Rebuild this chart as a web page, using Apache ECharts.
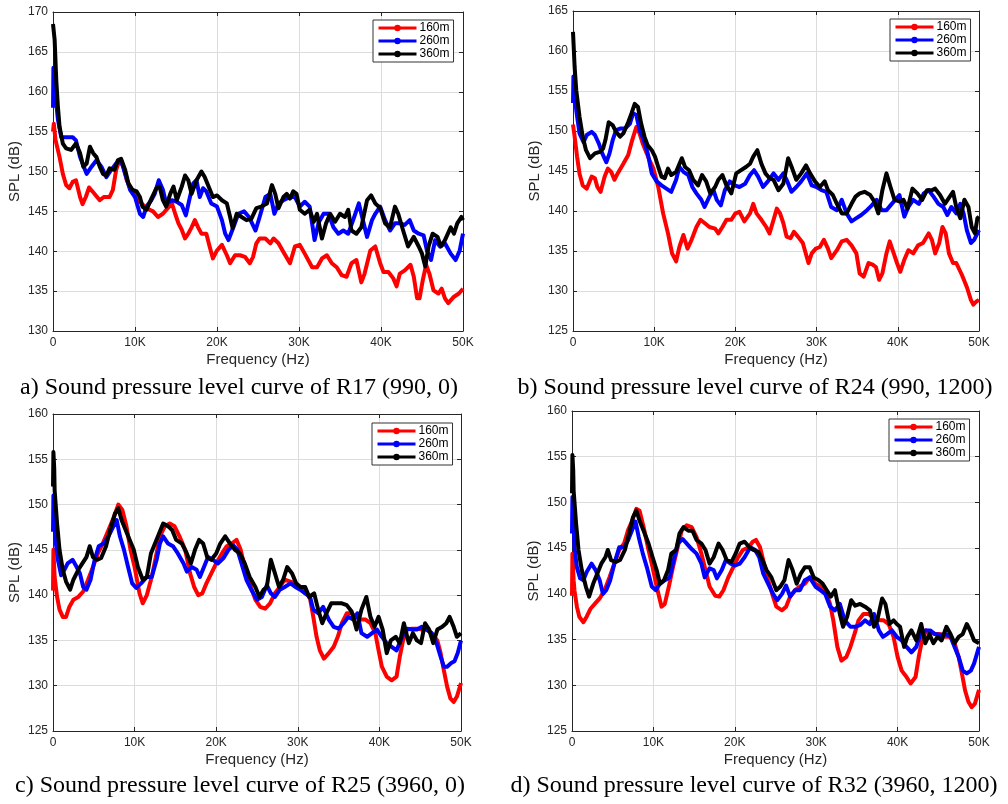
<!DOCTYPE html>
<html>
<head>
<meta charset="utf-8">
<title>SPL curves</title>
<script src="https://cdn.jsdelivr.net/npm/echarts@6/dist/echarts.min.js"></script>
<style>
  html, body { margin: 0; padding: 0; background: #fff; }
  #chart { width: 1008px; height: 804px; }
</style>
</head>
<body>
<div id="chart"></div>
<script>
// Frequency in kHz, sound pressure level in dB, one [f, SPL] list per distance.
const seriesNames = ['160m', '260m', '360m'];
const seriesColors = ['#ff0000', '#0000ff', '#000000'];
const xTicks = [0, 10, 20, 30, 40, 50];

const captions = [
  'a) Sound pressure level curve of R17 (990, 0)',
  'b) Sound pressure level curve of R24 (990, 1200)',
  'c) Sound pressure level curve of R25 (3960, 0)',
  'd) Sound pressure level curve of R32 (3960, 1200)'
];
const yRanges = [[130, 170], [125, 165], [125, 160], [125, 160]];

// R17 (990, 0)
const a160 = [[0,155],[0.1,156],[0.3,154],[0.8,151.8],[1.2,149.7],[1.6,148.3],[2,147.9],[2.4,148.7],[2.8,148.9],[3.3,146.8],[3.6,145.9],[4,146.8],[4.4,148],[4.9,147.4],[5.7,146.4],[6.2,146.8],[6.9,146.8],[7.3,147.7],[7.7,150.2],[8.1,151.4],[8.6,150.6],[9,148.9],[9.6,147.7],[10.2,146.6],[10.8,146],[11.4,145.4],[12.2,145],[12.8,144.3],[13.4,144.7],[14,145.4],[14.5,146],[14.9,144.7],[15.3,143.5],[15.7,142.7],[16.1,141.6],[16.5,142.2],[16.9,143],[17.3,143.9],[17.7,143],[18.1,142.2],[18.7,142.2],[19.1,140.6],[19.5,139.1],[20,140.1],[20.6,140.8],[21.2,139.5],[21.6,138.5],[22.2,139.5],[22.8,139.5],[23.4,139.3],[24,138.5],[24.4,139.3],[24.8,141],[25.2,141.6],[25.9,141.6],[26.5,141],[26.9,141.6],[27.5,141],[28.1,139.9],[28.9,138.5],[29.5,140.6],[30.1,140.8],[30.7,139.7],[31.6,138],[32.2,138],[32.8,139.1],[33.4,139.5],[34,138.5],[34.6,138],[35.2,137],[35.8,136.8],[36.4,138.5],[37,138.9],[37.6,136.1],[38,137.2],[38.7,140.1],[39.3,140.6],[39.9,138.5],[40.3,137.4],[40.9,137.4],[41.5,136.6],[41.9,135.6],[42.3,137.2],[42.9,137.6],[43.6,138.3],[44,136.8],[44.4,134.1],[44.7,134.1],[45.1,136.4],[45.5,138.3],[45.9,137.2],[46.4,135.1],[47,134.7],[47.4,135.3],[47.8,134.1],[48.2,133.5],[48.9,134.3],[49.5,134.7],[50,135.3]];
const a260 = [[0,158],[0.05,163],[0.3,159.5],[0.6,156.5],[1,154.3],[1.6,154.3],[2.4,154.3],[2.8,153.9],[3.3,151.8],[4.1,149.7],[4.7,150.6],[5.3,151.4],[5.9,150.6],[6.5,149.3],[7.1,150.2],[7.7,151],[8.3,151.4],[8.8,149.7],[9.4,147.7],[10,146.8],[10.6,144.7],[11,144.3],[11.4,145.6],[12,146.4],[12.4,147.2],[12.9,148.9],[13.4,147.7],[13.8,146],[14.5,146.4],[15.1,146.2],[15.7,145.8],[16.2,144.5],[16.7,146.8],[17.1,148.5],[17.5,148.9],[17.9,146.8],[18.3,147.9],[18.7,147.5],[19.3,146],[20,145.6],[20.6,143.9],[21,142.2],[21.4,141.4],[22,143],[22.6,144.7],[23.3,145],[23.9,144.3],[24.7,142.6],[25.2,144.3],[25.9,146.8],[26.5,147.2],[27,144.7],[27.5,146],[28.1,146.4],[28.9,146.8],[29.5,146.8],[30.1,145.6],[30.7,146.2],[31.3,145.6],[31.9,141.4],[32.4,143.6],[33,144.7],[33.6,144.7],[34.2,143],[34.8,142.2],[35.4,142.6],[36,142.2],[36.6,143.9],[37.3,146],[37.6,144.7],[38.3,141.8],[38.9,143.9],[39.3,144.7],[39.9,145.6],[40.5,143.9],[41.1,142.6],[41.7,143.5],[42.3,143.5],[42.9,143.3],[43.5,143.9],[44,142.6],[44.6,142.2],[45.2,142],[45.6,140.1],[46.1,138.9],[46.6,141.4],[47.2,140.6],[47.8,141],[48.5,139.7],[49.1,138.9],[49.6,140.1],[50,142.2]];
const a360 = [[0,168.5],[0.2,166.5],[0.4,161.4],[0.6,158.1],[0.8,155.6],[1.2,153.5],[1.6,152.9],[2.2,152.7],[2.8,153.5],[3.3,152.3],[3.7,150.6],[4.1,151],[4.5,153.1],[4.9,152.3],[5.3,151.8],[5.7,150.6],[6.1,149.7],[6.5,149.5],[6.9,150.4],[7.5,150.2],[7.9,151.4],[8.3,151.6],[8.8,150.2],[9.2,148.5],[9.7,147.7],[10.2,147.5],[10.6,146.8],[10.9,145.6],[11.4,145.2],[12,146.6],[12.6,147.9],[13,148.1],[13.4,146.4],[13.8,145.6],[14.3,147.2],[14.7,148.1],[15.1,146.4],[15.7,148.1],[16.1,149.5],[16.5,148.9],[16.9,147.2],[17.5,148.9],[18.1,150],[18.5,149.3],[18.9,148.3],[19.5,146.8],[20,147],[20.6,146.4],[21.2,146],[21.6,144.3],[21.9,142.9],[22.4,144.7],[23,144.3],[23.6,143.9],[24.2,144.1],[24.8,145.4],[25.4,145.6],[26.1,146],[26.7,148.3],[27.1,147.2],[27.5,145.4],[28.1,146.8],[28.5,147.2],[28.9,146.6],[29.3,147.5],[29.7,147.2],[30.1,145.2],[30.7,144.7],[31.3,145.2],[31.8,143.7],[32.2,144.7],[32.8,141.6],[33.3,143.5],[33.8,144.7],[34.4,143.7],[35,144.7],[35.6,144.3],[36,145.2],[36.4,142.6],[37,142.2],[37.6,143],[38.3,146.4],[38.8,147],[39.3,146],[39.9,145.4],[40.5,143.5],[41.1,143],[41.7,145.6],[42.1,144.7],[42.7,142.6],[43.3,140.6],[44,141.8],[44.6,140.6],[45,139.7],[45.4,138.1],[45.8,140.6],[46.3,142.2],[46.9,141.8],[47.3,140.6],[47.8,141.4],[48.5,143],[48.9,142.2],[49.3,143.5],[49.8,144.3],[50,143.9]];

// R24 (990, 1200)
const b160 = [[0,150.8],[0.2,149.3],[0.5,146.8],[0.8,144.7],[1.2,143.2],[1.7,142.8],[2.3,144.3],[2.7,144.1],[3,143],[3.4,142.4],[3.9,144.3],[4.3,145.3],[4.7,144.9],[5.1,143.9],[5.5,144.7],[6.2,145.9],[6.8,147],[7.3,148.9],[7.8,150.5],[8.2,149.7],[8.6,148.4],[9,147.4],[9.4,146.4],[9.9,145.3],[10.5,143],[11.1,139.7],[11.7,137.2],[12.2,134.7],[12.7,133.7],[13.1,135.5],[13.6,137],[14.1,135.3],[14.6,136.4],[15.2,138],[15.7,138.9],[16.2,138.5],[16.8,138],[17.5,137.8],[17.9,137.2],[18.4,138],[18.9,138.9],[19.5,138.9],[20,139.7],[20.5,139.9],[21.1,138.7],[21.8,139.7],[22.2,140.9],[22.6,139.7],[23.2,138.9],[23.8,138],[24.2,137.2],[24.7,138.9],[25.1,140.3],[25.5,139.7],[25.9,138.5],[26.3,136.8],[26.8,136.6],[27.2,137.4],[27.7,136.8],[28.3,136],[29,133.5],[29.4,134.7],[29.9,135.3],[30.4,135.5],[30.9,136.4],[31.4,135.3],[31.8,134.1],[32.5,135.1],[33.1,136.2],[33.7,136.4],[34.3,135.7],[34.9,134.7],[35.3,132.2],[35.8,131.8],[36.4,133.5],[36.9,133.3],[37.3,133],[37.7,131.4],[38.1,132.2],[38.6,134.7],[39,136.2],[39.5,134.7],[39.9,133.5],[40.3,132.4],[40.8,133.9],[41.3,135.1],[41.9,134.7],[42.5,135.7],[43.1,136],[43.8,137.2],[44.2,136.4],[44.6,134.7],[45.1,136],[45.5,138],[45.9,137.2],[46.3,134.7],[46.8,133.5],[47.2,133.5],[47.9,132],[48.5,130.5],[49,128.9],[49.3,128.3],[49.7,128.7],[50,128.9]];
const b260 = [[0,153.5],[0.05,156.8],[0.4,152.6],[0.8,149.7],[1.3,148.6],[1.7,149.5],[2.3,149.9],[2.7,149.5],[3.2,148.4],[3.6,147.2],[4.1,146.1],[4.5,147.2],[4.9,148.9],[5.3,150.1],[5.8,150.3],[6.4,150.3],[7,150.9],[7.4,152.2],[7.8,152],[8.2,150.1],[8.7,148.9],[9.2,147.2],[9.7,144.7],[10.3,143.7],[10.9,143.2],[11.5,142.8],[12.1,142.4],[12.7,143.9],[13.1,145.5],[13.6,144.9],[14.2,144.5],[14.7,143],[15.2,142.2],[15.8,141.4],[16.2,140.5],[16.8,141.8],[17.3,142.6],[17.7,141.4],[18.2,140.7],[18.7,142.6],[19.3,143.7],[19.9,143.2],[20.5,143],[21.2,143.4],[21.8,144.5],[22.3,145.1],[22.8,144.3],[23.4,143],[24,143.7],[24.7,144.7],[25.3,143.9],[25.9,144.7],[26.4,143.7],[26.9,142.4],[27.5,143],[28.1,143.7],[28.8,144.7],[29.4,143.2],[30,143],[30.6,142.6],[31.2,142.4],[31.8,140.5],[32.5,140.1],[33.1,141.4],[33.7,139.7],[34.3,138.7],[34.9,139.1],[35.5,139.5],[36.2,140.1],[36.8,140.7],[37.4,141.4],[38,140.1],[38.6,140.1],[39.1,140.7],[39.7,141.4],[40.2,142],[40.8,139.3],[41.3,140.5],[41.9,141.4],[42.6,140.9],[43.2,142.2],[43.8,142.6],[44.4,141.8],[45,140.9],[45.6,140.5],[46.1,139.5],[46.6,140.5],[47.2,139.7],[47.7,140.9],[48.1,139.7],[48.5,137.6],[49,136],[49.4,136.4],[49.8,137.2],[50,137.6]];
const b360 = [[0,162.4],[0.2,158],[0.4,155.1],[0.8,151.8],[1.2,149.3],[1.6,147.6],[2.1,146.6],[2.7,147.2],[3.3,147.4],[3.7,147.8],[4,148.9],[4.4,151.1],[4.9,150.7],[5.3,149.9],[5.8,149.3],[6.2,149.7],[6.8,151.1],[7.2,152.2],[7.6,153.4],[8,153],[8.4,150.9],[8.8,149.3],[9.2,148.2],[9.7,147.6],[10.1,146.8],[10.5,145.5],[10.9,144.3],[11.3,144.1],[11.7,145.3],[12.1,144.5],[12.7,144.9],[13.4,146.6],[13.8,145.5],[14.3,145.1],[14.8,143.9],[15.4,143.2],[15.9,144.5],[16.4,143.7],[16.9,142.2],[17.5,143],[17.9,143.9],[18.4,144.5],[18.9,143.2],[19.5,142.2],[20.1,144.7],[20.7,145.1],[21.3,145.5],[21.8,145.9],[22.2,146.8],[22.7,147.6],[23.2,145.9],[23.7,144.7],[24.2,144.1],[24.7,143.9],[25.3,142.6],[25.9,143.4],[26.5,146.6],[27,145.3],[27.5,143.9],[28.1,144.7],[28.7,145.7],[29.2,144.7],[29.8,143.7],[30.4,143],[31,143.7],[31.4,142.6],[32,142],[32.5,140.9],[33.1,139.7],[33.7,139.7],[34.3,140.9],[34.8,141.8],[35.3,142.2],[35.9,142.4],[36.6,142],[37.1,141.2],[37.6,139.7],[38.1,142.6],[38.6,144.7],[39.1,143],[39.6,141.4],[40.2,141.2],[40.7,141.4],[41.2,140.3],[41.8,142.8],[42.4,142.2],[43,141.4],[43.6,142.6],[44.2,142.6],[44.6,142.8],[45.2,142],[45.8,140.9],[46.4,141.8],[46.8,142.4],[47.2,140.5],[47.7,139.1],[48.2,141.4],[48.7,140.5],[49.1,138],[49.5,137.2],[49.8,139.1],[50,139.3]];

// R25 (3960, 0)
const c160 = [[0,140.5],[0.05,145],[0.2,142],[0.5,139.8],[0.8,138.4],[1.2,137.6],[1.6,137.6],[2,138.7],[2.5,139.5],[3.1,139.8],[3.7,140.4],[4.3,141.7],[4.9,143.1],[5.5,144.6],[6.1,145.7],[6.8,147.2],[7.4,148.5],[8,150],[8.5,149.4],[9,147.6],[9.5,145],[10,143.1],[10.6,140.2],[11,139.1],[11.5,140],[12.1,142],[12.6,144.2],[13.1,146.5],[13.7,147.6],[14.3,147.9],[14.9,147.6],[15.5,146.5],[16.2,145],[16.8,142.4],[17.3,140.9],[17.8,140],[18.3,140.2],[18.8,141.3],[19.4,142.4],[20,143.5],[20.7,144.6],[21.3,145.4],[21.9,145.7],[22.5,146.1],[23,145],[23.5,143.1],[24.1,141.3],[24.8,139.5],[25.4,138.7],[26,138.5],[26.6,139.1],[27.2,140.2],[27.8,140.9],[28.4,141.7],[29.1,141.5],[29.7,141.3],[30.3,140.9],[30.9,140.6],[31.5,139.6],[31.9,137.6],[32.3,135.4],[32.7,133.9],[33.2,133],[33.8,133.6],[34.4,134.3],[34.9,135.4],[35.4,136.9],[36,138],[36.6,138],[37.2,137.6],[37.6,137.3],[38.3,137.3],[38.9,136.9],[39.5,135.8],[39.9,133.9],[40.3,132.1],[40.9,131],[41.5,130.6],[42.1,131],[42.5,133.2],[42.9,135],[43.4,136.2],[44,136.3],[44.6,136.3],[45.2,136.2],[45.8,136.2],[46.4,135.8],[47.1,135],[47.5,133.6],[47.9,131.7],[48.3,129.9],[48.7,128.6],[49.1,128.2],[49.5,128.8],[50,130.3]];
const c260 = [[0,147],[0.05,151],[0.2,148],[0.3,146.1],[0.6,143.9],[1,142.2],[1.4,142.8],[1.8,143.5],[2.4,143.9],[2.9,143.1],[3.3,142.4],[3.7,140.9],[4.1,140.6],[4.6,141.7],[5.1,143.9],[5.6,145.4],[6.2,145.7],[6.8,146.5],[7.4,147.6],[7.8,148.3],[8.2,146.5],[8.7,145],[9.2,143.1],[9.7,141.3],[10.2,140.8],[10.8,141.3],[11.5,142],[12.1,142],[12.7,143.9],[13.1,145.7],[13.5,146.5],[14.1,145.7],[14.7,145.4],[15.3,144.6],[16,143.5],[16.4,142.6],[17,143.1],[17.6,142.8],[18,142],[18.5,143.1],[19,144.2],[19.6,143.9],[20.2,143.5],[20.9,144.1],[21.5,145],[22.1,145.5],[22.6,145],[23.1,143.5],[23.7,141.7],[24.3,140.6],[25,139.5],[25.6,139.8],[26.2,141.1],[26.7,140.2],[27.2,139.8],[27.8,140.6],[28.4,140.9],[29.1,141.3],[29.7,140.9],[30.3,140.6],[30.9,140.2],[31.5,139.8],[31.9,138.4],[32.5,138],[33.1,138.7],[33.8,137.3],[34.4,136.5],[35,136.3],[35.6,136.9],[36.2,137.6],[36.8,137.3],[37.3,138],[37.8,135.8],[38.5,135.4],[39.1,135.8],[39.7,136.2],[40.3,135.4],[40.9,134.7],[41.5,134.3],[42.1,133.9],[42.8,135.4],[43.4,136.3],[44,136.2],[44.6,136.2],[45.2,136.5],[45.8,136.2],[46.4,135.8],[47,134.7],[47.5,133.2],[47.9,132.1],[48.3,132.1],[48.8,132.5],[49.2,132.7],[49.6,133.6],[50,135]];
const c360 = [[0,152],[0.05,155.8],[0.15,154],[0.2,151.6],[0.5,147.9],[0.8,145],[1.2,142.8],[1.6,141.5],[2.1,140.6],[2.5,141.7],[3.1,142.8],[3.6,143.5],[4.1,144.2],[4.5,145.4],[4.9,144.2],[5.4,143.9],[5.9,144.1],[6.5,145.4],[7,147.2],[7.6,149],[8,149.6],[8.4,148.3],[8.9,147.2],[9.4,146.1],[9.9,145],[10.4,143.1],[11,141.7],[11.5,142],[12,144.6],[12.5,145.7],[13,146.8],[13.5,147.9],[14.1,147.6],[14.6,147.2],[15.1,146.1],[15.8,145.7],[16.4,144.6],[16.9,143.5],[17.4,145],[17.9,146.1],[18.4,145.7],[18.9,144.2],[19.4,143.9],[20,144.6],[20.5,145.7],[21.1,146.5],[21.7,145.7],[22.3,145],[22.9,144.6],[23.5,143.5],[24.1,142],[24.8,140.9],[25.3,139.8],[25.8,140.6],[26.2,140.9],[26.7,143.9],[27.2,142.4],[27.7,140.9],[28.2,141.7],[28.7,143.1],[29.3,142.4],[29.8,141.3],[30.3,140.9],[30.9,140.9],[31.4,139.8],[32,140.2],[32.5,138.4],[33,136.9],[33.5,138],[34.1,139.1],[34.8,139.1],[35.4,139.1],[36,138.9],[36.6,138.2],[37.2,136.2],[37.8,138.4],[38.4,139.8],[38.9,137.6],[39.4,136.5],[39.9,137.6],[40.4,136.2],[40.9,133.6],[41.4,135],[42,135.4],[42.5,134.7],[43,136.9],[43.6,134.7],[44.1,135.8],[44.6,135],[45.1,134.7],[45.6,136.9],[46.1,136.2],[46.6,134.7],[47.1,136.2],[47.7,136.5],[48.2,136.9],[48.6,137.6],[49.1,136.5],[49.5,135.4],[50,135.8]];

// R32 (3960, 1200)
const d160 = [[0,139.8],[0.05,144.4],[0.2,141.5],[0.3,140.4],[0.6,138.6],[0.9,137.5],[1.4,136.9],[1.8,137.5],[2.3,138.4],[2.8,138.9],[3.4,139.5],[4,140.4],[4.6,141.8],[5.2,143.3],[5.8,144.8],[6.4,145.5],[6.9,147],[7.4,148],[7.9,149.3],[8.3,149.1],[8.8,147.3],[9.4,144.8],[9.9,142.9],[10.4,140.8],[11,138.6],[11.4,138.9],[11.9,140.8],[12.4,142.9],[12.9,144.8],[13.5,147],[14.1,147.5],[14.7,147.3],[15.3,146.2],[15.9,144.4],[16.4,142.6],[16.9,140.8],[17.6,139.8],[18.1,139.7],[18.6,140.4],[19.2,141.8],[19.8,142.9],[20.4,144],[21,144.8],[21.7,145.1],[22.2,145.7],[22.6,145.9],[23.1,145.1],[23.6,143.3],[24.1,141.5],[24.7,139.7],[25.1,138.6],[25.8,138.2],[26.3,138.6],[26.8,139.7],[27.4,140.4],[28,140.8],[28.6,141.1],[29.2,141.8],[29.9,141.1],[30.5,140.8],[31.1,140.4],[31.7,138.9],[32.1,137.1],[32.6,134.2],[33.1,132.7],[33.7,133.1],[34.2,134.2],[34.7,135.6],[35.2,137.1],[35.8,137.8],[36.4,137.8],[37,137.5],[37.7,137.1],[38.3,137.1],[38.9,136.7],[39.5,135.3],[40,133.1],[40.5,131.6],[41.1,130.9],[41.6,130.2],[42.2,130.9],[42.6,133.1],[43,134.9],[43.5,136],[44,135.8],[44.6,135.6],[45.2,135.6],[45.9,135.3],[46.5,135.3],[47,134.6],[47.5,133.1],[47.9,131.3],[48.3,129.4],[48.7,128.2],[49.1,127.6],[49.5,128],[50,129.5]];
const d260 = [[0,146.6],[0.05,150.6],[0.2,148],[0.3,145.1],[0.6,142.9],[1,141.7],[1.4,141.5],[1.8,142.4],[2.4,143.3],[2.9,142.6],[3.4,141.5],[3.8,140],[4.2,140.4],[4.7,141.5],[5.2,143.3],[5.8,145.1],[6.4,145.1],[6.9,145.9],[7.4,147],[7.8,147.9],[8.2,146.2],[8.7,144.4],[9.2,142.9],[9.8,140.8],[10.3,140.4],[10.8,141.1],[11.4,141.5],[12,141.8],[12.5,143.7],[13,145.5],[13.6,146],[14.1,145.5],[14.7,144.9],[15.3,144.4],[15.9,143.3],[16.3,141.8],[16.9,142.8],[17.4,142.6],[17.8,141.7],[18.4,142.6],[18.9,143.7],[19.5,143.3],[20,143.1],[20.6,143.3],[21.2,144],[21.9,145.1],[22.5,144.8],[23,144],[23.5,142.2],[24.1,141.1],[24.7,140],[25.2,139.3],[25.8,140],[26.3,140.9],[26.8,139.7],[27.4,140.4],[28,140.4],[28.6,141.5],[29.2,141.8],[29.9,140.8],[30.5,140.4],[31.1,140],[31.7,138.6],[32.3,138.2],[32.9,138.9],[33.5,137.1],[34.2,136.4],[34.8,136.4],[35.4,136.6],[36,137.1],[36.6,136.7],[37.1,137.8],[37.7,136],[38.2,135.3],[38.7,135.6],[39.3,136],[39.9,135.3],[40.5,134.9],[41.1,134.2],[41.7,133.6],[42.3,134.2],[42.8,135.6],[43.4,136],[44,136],[44.6,135.6],[45.2,135.5],[45.9,135.6],[46.5,135.3],[47,134.2],[47.5,133.1],[48,131.6],[48.5,131.3],[49,131.6],[49.4,132.4],[50,134.2]];
const d360 = [[0,151],[0.05,155.2],[0.15,153.5],[0.2,151.3],[0.5,147.7],[0.8,144.8],[1.2,142.6],[1.7,140.8],[2.1,139.7],[2.6,141.1],[3.1,142.2],[3.6,143.3],[4.1,144],[4.4,144.8],[4.8,143.7],[5.4,143.5],[5.9,143.7],[6.5,144.8],[7,146.6],[7.5,148.4],[7.9,149.1],[8.3,148],[8.8,146.9],[9.4,145.5],[9.9,144],[10.4,142.6],[10.8,141.1],[11.3,141.5],[11.8,142.6],[12.2,144.4],[12.8,144.8],[13.2,146.6],[13.7,147.3],[14.3,146.9],[14.8,146.9],[15.3,145.9],[15.9,145.5],[16.4,144.8],[16.9,143.3],[17.4,144],[18,145.5],[18.5,144.8],[19,143.7],[19.6,143.5],[20.1,144.4],[20.6,145.5],[21.2,145.7],[21.8,145.1],[22.3,144.8],[22.9,144.6],[23.4,143.7],[23.9,142.6],[24.5,141.8],[25.1,140.4],[25.6,140.8],[26.1,141.5],[26.6,143.7],[27.1,142.6],[27.6,141.1],[28.1,142.2],[28.6,142.9],[29.2,142.9],[29.7,141.8],[30.3,141.5],[30.8,141.1],[31.3,140.4],[31.8,139.7],[32.3,140.4],[32.9,137.8],[33.3,136.4],[33.8,137.5],[34.3,139.3],[34.8,138.7],[35.4,138.9],[36,138.6],[36.6,138.2],[37.1,136.4],[37.5,137.1],[38.1,139.5],[38.5,138.9],[39,136.7],[39.5,137.1],[39.9,136.7],[40.3,136.4],[40.8,134.2],[41.2,135.3],[41.7,136],[42.3,134.9],[42.9,136.7],[43.4,134.6],[43.9,135.6],[44.4,134.6],[44.9,135.3],[45.4,134.9],[46,136.4],[46.5,135.6],[47,134.6],[47.5,135.3],[48,135.6],[48.5,136.7],[48.9,136],[49.4,134.9],[50,134.6]];

const panelData = [
  [a160, a260, a360],
  [b160, b260, b360],
  [c160, c260, c360],
  [d160, d260, d360]
];

// Layout of the 2x2 figure
const grids = [
  { left: 53,  top: 12,  width: 410, height: 319 },
  { left: 573, top: 11,  width: 406, height: 320 },
  { left: 53,  top: 414, width: 408, height: 317 },
  { left: 572, top: 411, width: 407, height: 320 }
];
const legendPos = [
  { left: 373, top: 20 },
  { left: 890, top: 19 },
  { left: 372, top: 423 },
  { left: 889, top: 419 }
];
const captionPos = [[239, 388], [755, 388], [240, 786], [754, 786]];

const sans = '"Liberation Sans", Arial, Helvetica, sans-serif';
const serif = '"Liberation Serif", "Times New Roman", serif';
const axisInk = '#262626';

const xAxes = [], yAxes = [], series = [], legends = [], graphics = [];

grids.forEach((g, i) => {
  const [ymin, ymax] = yRanges[i];
  // bottom axis with labels
  xAxes.push({
    type: 'value', gridIndex: i, min: 0, max: 50, interval: 10, position: 'bottom',
    name: 'Frequency (Hz)', nameLocation: 'middle', nameGap: 21,
    nameTextStyle: { fontFamily: sans, fontSize: 15, color: axisInk },
    axisLine: { show: true, onZero: false, lineStyle: { color: axisInk, width: 1 } },
    axisTick: { show: true, inside: true, length: 4, lineStyle: { color: axisInk } },
    axisLabel: { fontFamily: sans, fontSize: 12, color: axisInk, margin: 6,
      formatter: v => (xTicks.includes(v) ? (v === 0 ? '0' : v + 'K') : '') },
    splitLine: { show: true, lineStyle: { color: '#dcdcdc', width: 1 } }
  });
  // top frame edge
  xAxes.push({
    type: 'value', gridIndex: i, min: 0, max: 50, interval: 10, position: 'top',
    axisLine: { show: true, onZero: false, lineStyle: { color: axisInk, width: 1 } },
    axisTick: { show: true, inside: true, length: 4, lineStyle: { color: axisInk } },
    axisLabel: { show: false }, splitLine: { show: false }
  });
  // left axis with labels
  yAxes.push({
    type: 'value', gridIndex: i, min: ymin, max: ymax, interval: 5, position: 'left',
    name: 'SPL (dB)', nameLocation: 'middle', nameGap: 31, nameRotate: 90,
    nameTextStyle: { fontFamily: sans, fontSize: 15, color: axisInk },
    axisLine: { show: true, onZero: false, lineStyle: { color: axisInk, width: 1 } },
    axisTick: { show: true, inside: true, length: 4, lineStyle: { color: axisInk } },
    axisLabel: { fontFamily: sans, fontSize: 12, color: axisInk, margin: 5 },
    splitLine: { show: true, lineStyle: { color: '#dcdcdc', width: 1 } }
  });
  // right frame edge
  yAxes.push({
    type: 'value', gridIndex: i, min: ymin, max: ymax, interval: 5, position: 'right',
    axisLine: { show: true, onZero: false, lineStyle: { color: axisInk, width: 1 } },
    axisTick: { show: true, inside: true, length: 4, lineStyle: { color: axisInk } },
    axisLabel: { show: false }, splitLine: { show: false }
  });

  panelData[i].forEach((data, k) => {
    series.push({
      name: seriesNames[k], type: 'line', data: data,
      xAxisIndex: 2 * i, yAxisIndex: 2 * i,
      showSymbol: false, symbol: 'circle', symbolSize: 5,
      color: seriesColors[k],
      lineStyle: { color: seriesColors[k], width: 4, join: 'round' },
      z: 2 + k, silent: true, animation: false
    });
  });

  legends.push({
    data: seriesNames, left: legendPos[i].left, top: legendPos[i].top,
    orient: 'vertical', selectedMode: false,
    backgroundColor: '#fff', borderColor: '#333', borderWidth: 1,
    padding: [2, 4, 2, 4], itemGap: 1, itemWidth: 38, itemHeight: 8,
    lineStyle: { width: 3 },
    textStyle: { fontFamily: sans, fontSize: 12, color: '#000', padding: [0, 0, 0, -2] }
  });

  graphics.push({
    type: 'text', x: captionPos[i][0], y: captionPos[i][1],
    style: { text: captions[i], font: '24px ' + serif, fill: '#000',
      align: 'center', verticalAlign: 'middle' }
  });
});

const chart = echarts.init(document.getElementById('chart'), null, { renderer: 'canvas' });
chart.setOption({
  animation: false,
  backgroundColor: '#fff',
  grid: grids.map(g => Object.assign({ containLabel: false }, g)),
  xAxis: xAxes,
  yAxis: yAxes,
  legend: legends,
  series: series,
  graphic: graphics
});
</script>
</body>
</html>
